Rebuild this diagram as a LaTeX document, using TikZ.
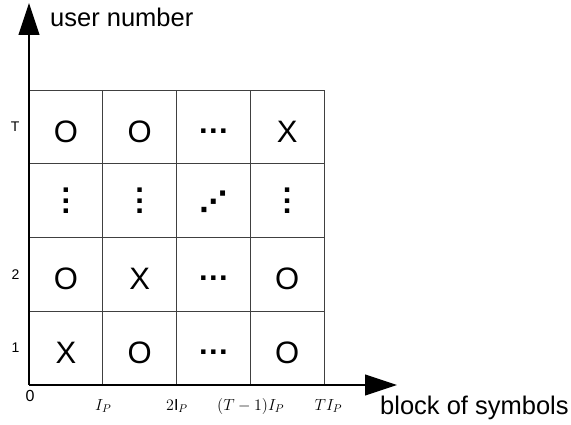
\RequirePackage{fix-cm}
\documentclass[tikz,border=0pt]{standalone}
\usepackage{fontspec}
\setmainfont{Liberation Sans}
\newfontfamily\dotfont{DejaVu Sans}
\usetikzlibrary{arrows.meta,positioning,calc}
\tikzset{
  >={Triangle[length=32pt,width=21pt]},
  cell/.style={draw=black!75,line width=0.9pt,minimum size=73.75pt,
               inner sep=0pt,text height=31pt,text depth=0pt,
               font=\fontsize{31}{31}\selectfont},
  axis/.style={->,line width=1.1pt},
  rowlbl/.style={font=\fontsize{14}{14}\selectfont,inner sep=0pt},
  ticklbl/.style={font=\fontsize{16}{16}\selectfont,inner sep=0pt,anchor=base},
  axislbl/.style={font=\fontsize{25.5}{25.5}\selectfont,inner sep=0pt,
                  anchor=base west},
}
\newcommand{\hdots}{\raisebox{9pt}{\bfseries.\kern1.4pt.\kern1.4pt.}}
\newcommand{\vdts}{\raisebox{2.5pt}{\bfseries\vbox{\baselineskip=10.5pt
  \hbox{.}\hbox{.}\hbox{.}}}}
\newcommand{\updiag}{{\dotfont\bfseries\fontsize{28}{28}\selectfont\raisebox{5pt}{⋰}}}

\begin{document}
\begin{tikzpicture}[x=1pt,y=1pt]
    \useasboundingbox (0,0) rectangle (571,425);

    % Cells of the grid
    \foreach \r/\row in {1/{X,O,\hdots,O},
                         2/{O,X,\hdots,O},
                         3/{\vdts,\vdts,\updiag,\vdts},
                         4/{O,O,\hdots,X}}{
      \foreach \s [count=\c] in \row
        \node[cell] (c-\r-\c) at ({29+73.75*(\c-0.5)},{40+73.75*(\r-0.5)}) {\s};
    }

    % Axes
    \coordinate (orig) at (29,40);
    \coordinate (ytip) at (29,422);
    \coordinate (xtip) at (397,40);
    \draw[axis] (orig) -- (ytip);
    \draw[axis] (orig) -- (xtip);

    % Axis labels
    \node[axislbl] (ylbl) at (50,398) {user number};
    \node[axislbl] (xlbl) at (380,10) {block of symbols};

    % Row labels
    \node[rowlbl,left=9pt of c-4-1] (lT) {T};
    \node[rowlbl,left=9pt of c-2-1] (l2) {2};
    \node[rowlbl,left=9pt of c-1-1] (l1) {1};

    % Tick labels
    \node[ticklbl] (t0) at (30,23) {0};
    \node[ticklbl] (t1) at ($(c-1-1.south east)+(0,-25)$) {$I_P$};
    \node[ticklbl] (t2) at ($(c-1-2.south east)+(0,-25)$) {$2\mathrm{I}_P$};
    \node[ticklbl] (t3) at ($(c-1-3.south east)+(0,-25)$) {$(T-1)I_P$};
    \node[ticklbl] (t4) at ($(c-1-4.south east)+(4,-25)$) {$TI_P$};
\end{tikzpicture}
\end{document}
